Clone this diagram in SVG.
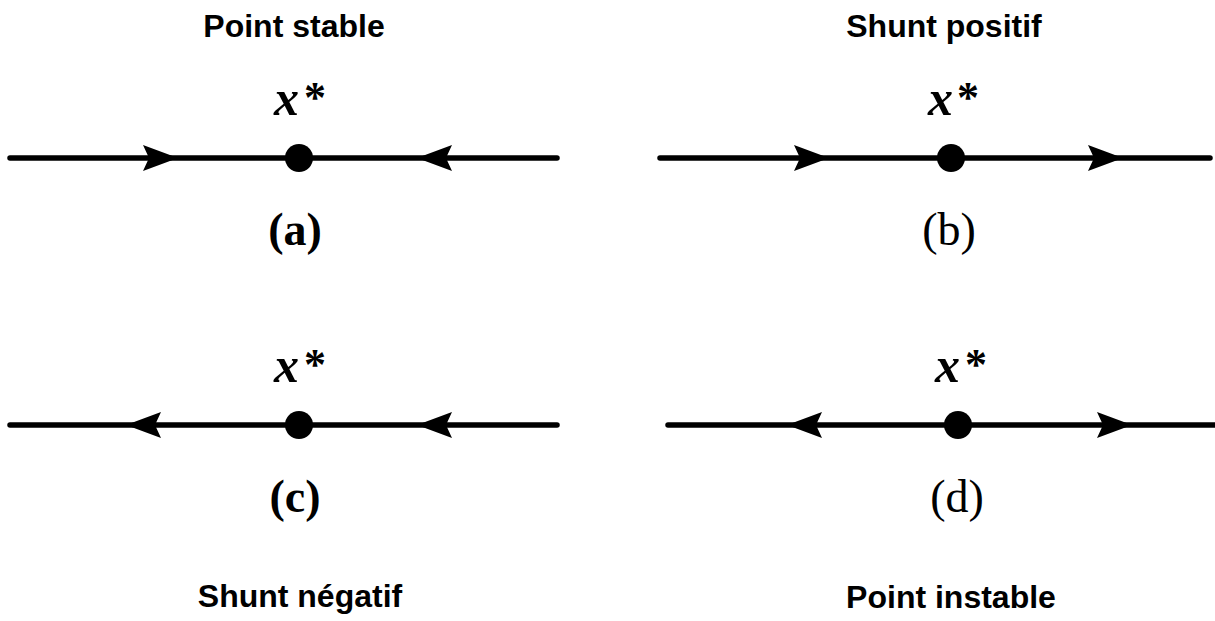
<svg xmlns="http://www.w3.org/2000/svg" width="1215" height="621" viewBox="0 0 1215 621">
<style>
.ttl{font-family:"Liberation Sans",Arial,sans-serif;font-weight:bold;font-size:32px;text-anchor:middle;fill:#000}
.lbl{font-family:"Liberation Serif","Times New Roman",serif;font-size:46px;text-anchor:middle;fill:#000}
.b{font-weight:bold}
.xv{font-family:"Liberation Serif","Times New Roman",serif;font-style:italic;font-weight:bold;font-size:50px;fill:#000}
.ast{font-family:"Liberation Serif","Times New Roman",serif;font-weight:bold;font-size:44px;text-anchor:middle;fill:#000}
.ln{stroke:#000;stroke-width:5.5;stroke-linecap:round;fill:none}
.dot{fill:#000}
</style>
<defs>
<path id="ah" d="M0,0 L-35,-13 L-29,0 L-35,13 Z" fill="#000"/>
</defs>
<g id="connectors">
<line class="ln" x1="10" y1="158" x2="557" y2="158"/>
<use href="#ah" transform="translate(178,158)"/>
<use href="#ah" transform="translate(417,158) scale(-1,1)"/>
<line class="ln" x1="660" y1="158" x2="1210" y2="158"/>
<use href="#ah" transform="translate(829,158)"/>
<use href="#ah" transform="translate(1123,158)"/>
<line class="ln" x1="10" y1="425" x2="557" y2="425"/>
<use href="#ah" transform="translate(126,425) scale(-1,1)"/>
<use href="#ah" transform="translate(417,425) scale(-1,1)"/>
<line class="ln" x1="668" y1="425" x2="1218" y2="425"/>
<use href="#ah" transform="translate(787,425) scale(-1,1)"/>
<use href="#ah" transform="translate(1132,425)"/>
</g>
<g id="panel-a">
<text class="ttl" x="294" y="37">Point stable</text>
<text class="xv" x="274" y="115">x</text><text class="ast" x="315" y="112">*</text>
<circle class="dot" cx="299" cy="158" r="14"/>
<text class="lbl b" x="295" y="245">(a)</text>
</g>
<g id="panel-b">
<text class="ttl" x="944" y="37">Shunt positif</text>
<text class="xv" x="928" y="115">x</text><text class="ast" x="968" y="112">*</text>
<circle class="dot" cx="951" cy="158" r="14"/>
<text class="lbl" x="949" y="245">(b)</text>
</g>
<g id="panel-c">
<text class="lbl b" x="295" y="512">(c)</text>
<text class="xv" x="274" y="382">x</text><text class="ast" x="315" y="379">*</text>
<circle class="dot" cx="299" cy="425" r="14"/>
<text class="ttl" x="300" y="607">Shunt négatif</text>
</g>
<g id="panel-d">
<text class="xv" x="935" y="382">x</text><text class="ast" x="976" y="379">*</text>
<circle class="dot" cx="958" cy="425" r="14"/>
<text class="lbl" x="957" y="512">(d)</text>
<text class="ttl" x="951" y="608">Point instable</text>
</g>
</svg>
